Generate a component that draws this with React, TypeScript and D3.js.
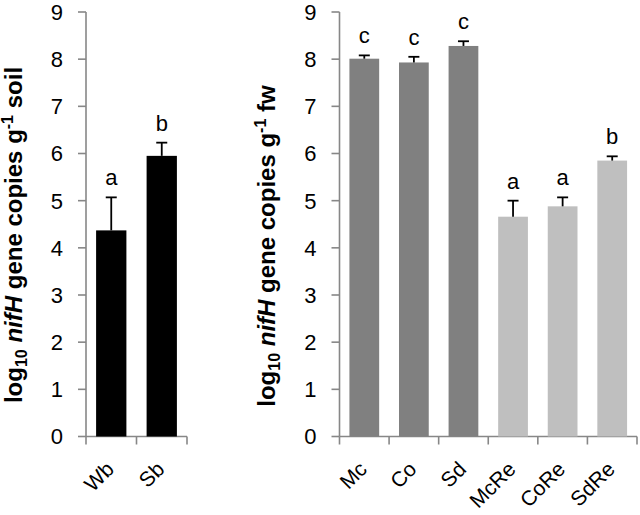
import React from "react";
import * as d3 from "d3";

const leftCats = ["Wb", "Sb"];
const leftVals = [4.37, 5.95];
const leftErr = [0.7, 0.28];
const leftLetters = ["a", "b"];

const rightCats = ["Mc", "Co", "Sd", "McRe", "CoRe", "SdRe"];
const rightVals = [8.01, 7.93, 8.28, 4.66, 4.88, 5.85];
const rightErr = [0.07, 0.12, 0.1, 0.34, 0.19, 0.09];
const rightLetters = ["c", "c", "c", "a", "a", "b"];
const rightColors = ["#808080", "#808080", "#808080", "#bfbfbf", "#bfbfbf", "#bfbfbf"];

const yTicks = [0, 1, 2, 3, 4, 5, 6, 7, 8, 9];

const FONT = "'Liberation Sans', Arial, sans-serif";
const AXIS = "#878787";

const y = d3.scaleLinear().domain([0, 9]).range([436.5, 12]);

function Panel({ x0, x1, cats, vals, errs, letters, colors, titleX, titleY, titleEnd }: any) {
  const x = d3.scaleBand().domain(cats).range([x0, x1]).paddingInner(0.4).paddingOuter(0.2);
  const step = x.step();
  return (
    <g>
      <line x1={x0} x2={x0} y1={y(9)} y2={y(0)} stroke={AXIS} strokeWidth={1.6} />
      {yTicks.map((t) => (
        <g key={t}>
          <line x1={x0 - 8} x2={x0} y1={y(t)} y2={y(t)} stroke={AXIS} strokeWidth={1.6} />
          <text x={x0 - 23} y={y(t)} dy="0.36em" textAnchor="end" fontSize={22} fontFamily={FONT} fill="#000">
            {t}
          </text>
        </g>
      ))}
      <line x1={x0} x2={x1} y1={y(0)} y2={y(0)} stroke={AXIS} strokeWidth={1.6} />
      {d3.range(cats.length + 1).map((i) => (
        <line key={i} x1={x0 + i * step} x2={x0 + i * step} y1={y(0)} y2={y(0) + 8} stroke={AXIS} strokeWidth={1.6} />
      ))}
      {cats.map((c: string, i: number) => {
        const bx = x(c)!;
        const cx = bx + x.bandwidth() / 2;
        const top = y(vals[i]);
        const et = y(vals[i] + errs[i]);
        const lx = cx + 4;
        const ly = y(0) + 34;
        return (
          <g key={c}>
            <rect x={bx} y={top} width={x.bandwidth()} height={y(0) - top} fill={colors[i]} />
            <line x1={cx} x2={cx} y1={top} y2={et} stroke="#000" strokeWidth={1.8} />
            <line x1={cx - 5.5} x2={cx + 5.5} y1={et} y2={et} stroke="#000" strokeWidth={1.8} />
            <text x={cx} y={et - 12} textAnchor="middle" fontSize={22} fontFamily={FONT}>
              {letters[i]}
            </text>
            <text
              transform={`translate(${lx},${ly}) rotate(-45)`}
              textAnchor="end"
              fontSize={21}
              fontFamily={FONT}
            >
              {c}
            </text>
          </g>
        );
      })}
      <text
        transform={`translate(${titleX},${titleY}) rotate(-90)`}
        textAnchor="middle"
        fontSize={24}
        fontWeight="bold"
        fontFamily={FONT}
      >
        log<tspan fontSize={16} dy="5">10</tspan>
        <tspan dy="-5"> </tspan>
        <tspan fontStyle="italic">nifH</tspan> gene copies g
        <tspan fontSize={16} dy="-9">-1</tspan>
        <tspan dy="9"> {titleEnd}</tspan>
      </text>
    </g>
  );
}

export default function App() {
  return (
    <svg width={640} height={515} style={{ position: "absolute", left: 0, top: 0, background: "#fff" }}>
      <rect width={640} height={515} fill="#fff" />
      <Panel
        x0={86}
        x1={187}
        cats={leftCats}
        vals={leftVals}
        errs={leftErr}
        letters={leftLetters}
        colors={["#000", "#000"]}
        titleX={22}
        titleY={235}
        titleEnd="soil"
      />
      <Panel
        x0={339.5}
        x1={637}
        cats={rightCats}
        vals={rightVals}
        errs={rightErr}
        letters={rightLetters}
        colors={rightColors}
        titleX={275}
        titleY={246}
        titleEnd="fw"
      />
    </svg>
  );
}
